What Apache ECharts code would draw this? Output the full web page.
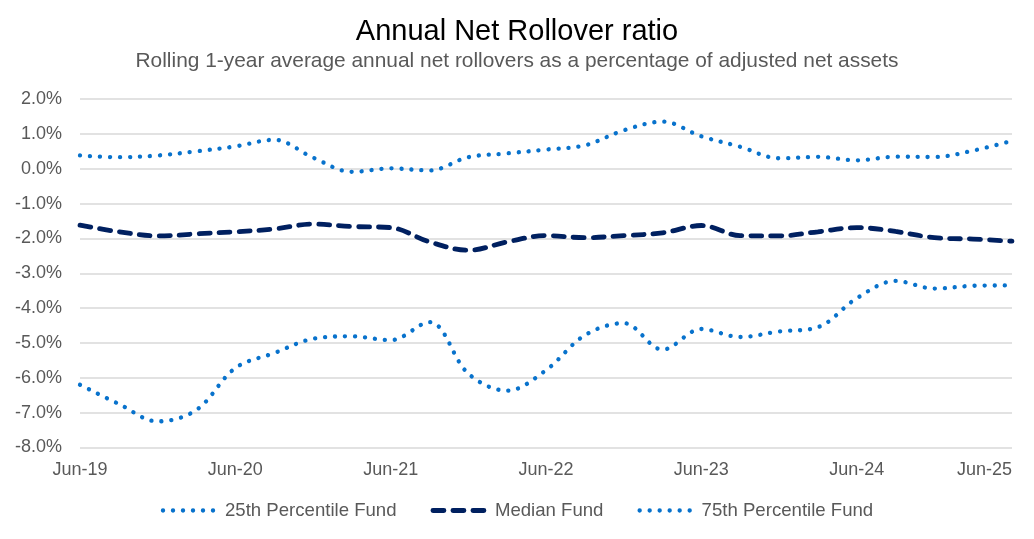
<!DOCTYPE html>
<html>
<head>
<meta charset="utf-8">
<script src="https://cdn.jsdelivr.net/npm/echarts@6/dist/echarts.min.js"></script>
<style>
html,body{margin:0;padding:0;background:#fff;}
#chart{width:1034px;height:539px;}
</style>
</head>
<body>
<div id="chart"></div>
<script>
const categories = ['Jun-19','Sep-19','Dec-19','Mar-20','Jun-20','Sep-20','Dec-20','Mar-21','Jun-21','Sep-21','Dec-21','Mar-22','Jun-22','Sep-22','Dec-22','Mar-23','Jun-23','Sep-23','Dec-23','Mar-24','Jun-24','Sep-24','Dec-24','Mar-25','Jun-25'];
const p25 = [-6.20,-6.75,-7.25,-6.92,-5.72,-5.29,-4.88,-4.81,-4.92,-4.40,-5.88,-6.37,-5.78,-4.78,-4.43,-5.19,-4.60,-4.83,-4.67,-4.55,-3.72,-3.22,-3.44,-3.36,-3.35];
const median = [-1.62,-1.81,-1.93,-1.87,-1.81,-1.73,-1.59,-1.66,-1.69,-2.10,-2.34,-2.10,-1.92,-1.98,-1.92,-1.84,-1.63,-1.92,-1.93,-1.81,-1.69,-1.80,-1.98,-2.02,-2.08];
const p75 = [0.38,0.33,0.38,0.50,0.64,0.83,0.32,-0.09,0.01,-0.05,0.33,0.44,0.55,0.67,1.10,1.35,0.93,0.63,0.30,0.34,0.24,0.345,0.335,0.52,0.80];
const seriesNames = ['25th Percentile Fund','Median Fund','75th Percentile Fund'];
const yTicks = {min:-8, max:2, interval:1};

const chart = echarts.init(document.getElementById('chart'));
const font = 'Liberation Sans, Arial, sans-serif';
const blue = '#0872CC', navy = '#002060';
const dotted = {color:blue, width:4.3, type:[0.1, 9.9], cap:'round'};
const dashed = {color:navy, width:4.8, type:[11, 9], cap:'round'};
const hiddenSym = {color:'rgba(0,0,0,0)', borderWidth:0, opacity:0};
chart.setOption({
  animation:false,
  title:{
    text:'Annual Net Rollover ratio',
    subtext:'Rolling 1-year average annual net rollovers as a percentage of adjusted net assets',
    left:'center', top:12, itemGap:5,
    textStyle:{fontFamily:font, fontSize:29, fontWeight:'normal', color:'#000'},
    subtextStyle:{fontFamily:font, fontSize:20.9, color:'#595959'}
  },
  grid:{left:80, right:22, top:99, bottom:91.5},
  legend:{
    bottom:14, left:'center', itemWidth:54, itemHeight:14, itemGap:34,
    textStyle:{fontFamily:font, fontSize:18.6, color:'#595959', padding:[0,0,0,3]},
    data:[
      {name:seriesNames[0], lineStyle:dotted, itemStyle:hiddenSym},
      {name:seriesNames[1], lineStyle:dashed, itemStyle:hiddenSym},
      {name:seriesNames[2], lineStyle:dotted, itemStyle:hiddenSym}
    ]
  },
  xAxis:{
    type:'category', data:categories, boundaryGap:false,
    axisLine:{show:false}, axisTick:{show:false},
    axisLabel:{interval:3, margin:14, fontFamily:font, fontSize:18, color:'#595959', alignMaxLabel:'right'},
    splitLine:{show:false}
  },
  yAxis:{
    type:'value', min:yTicks.min, max:yTicks.max, interval:yTicks.interval,
    axisLine:{show:false}, axisTick:{show:false},
    axisLabel:{margin:18, fontFamily:font, fontSize:18, color:'#595959', formatter:v=>v.toFixed(1)+'%'},
    splitLine:{lineStyle:{color:'#D9D9D9', width:1.5}}
  },
  series:[
    {name:seriesNames[0], type:'line', data:p25, smooth:0.35, symbol:'none', lineStyle:dotted, itemStyle:{color:blue}},
    {name:seriesNames[1], type:'line', data:median, smooth:0.35, symbol:'none', lineStyle:dashed, itemStyle:{color:navy}},
    {name:seriesNames[2], type:'line', data:p75, smooth:0.35, symbol:'none', lineStyle:dotted, itemStyle:{color:blue}}
  ]
});
</script>
</body>
</html>
